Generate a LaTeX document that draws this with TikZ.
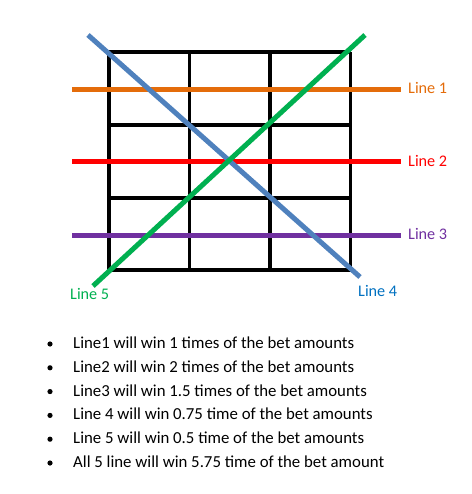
\documentclass[tikz,border=0pt]{standalone}
\usepackage{fontspec}
\setmainfont{Carlito}
\usepackage{tikz}
\usetikzlibrary{positioning,calc}
\definecolor{lineorange}{RGB}{228,108,10}
\definecolor{linered}{RGB}{255,0,0}
\definecolor{linepurple}{RGB}{112,48,160}
\definecolor{lineblue}{RGB}{79,129,189}
\definecolor{labelblue}{RGB}{0,112,192}
\definecolor{linegreen}{RGB}{0,176,80}
\tikzset{
  grid line/.style={line width=3.3pt,black},
  pay line/.style={line width=5pt},
  line label/.style={inner sep=0pt,anchor=base west,font=\fontsize{16.2}{18}\selectfont},
  item text/.style={inner sep=0pt,anchor=base west,font=\fontsize{16.8}{19}\selectfont}
}
\begin{document}
\begin{tikzpicture}[x=1pt,y=-1pt]
\useasboundingbox (0,0) rectangle (471,494);
% the 3x3 board
\foreach \xx in {109,189.5,270,350.5} \draw[grid line] (\xx,52) -- (\xx,270);
\foreach \yy in {52,125,198,270} \draw[grid line] (109,\yy) -- (350.5,\yy);
% straight pay lines
\node[line label,text=lineorange] (l1) at (408,94) {Line 1};
\node[line label,text=linered] (l2) at (408,167) {Line 2};
\node[line label,text=linepurple] (l3) at (408,239.5) {Line 3};
\coordinate (s1) at (72,90);   \coordinate (e1) at (401,90);
\coordinate (s2) at (72,162);  \coordinate (e2) at (401,162);
\coordinate (s3) at (72,235);  \coordinate (e3) at (401,235);
\draw[pay line,lineorange] (s1) -- (e1);
\draw[pay line,linered] (s2) -- (e2);
\draw[pay line,linepurple] (s3) -- (e3);
% diagonals
\coordinate (s4) at (88,35);   \coordinate (e4) at (360,277);
\coordinate (s5) at (365,35);  \coordinate (e5) at (93,286);
\node[line label,text=labelblue] (l4) at (358,296) {Line 4};
\node[line label,text=linegreen] (l5) at (70,299) {Line 5};
\draw[pay line,lineblue] (s4) -- (e4);
\draw[pay line,linegreen] (s5) -- (e5);
% payouts
\foreach \txt [count=\i] in {Line1 will win 1 times of the bet amounts,
  Line2 will win 2 times of the bet amounts,
  Line3 will win 1.5 times of the bet amounts,
  Line 4 will win 0.75 time of the bet amounts,
  Line 5 will win 0.5 time of the bet amounts,
  All 5 line will win 5.75 time of the bet amount}{
  \fill (50,{344+23.8*(\i-1)}) circle (2.6pt);
  \node[item text] (item\i) at (73,{348.5+23.8*(\i-1)}) {\txt};
}
\end{tikzpicture}
\end{document}
